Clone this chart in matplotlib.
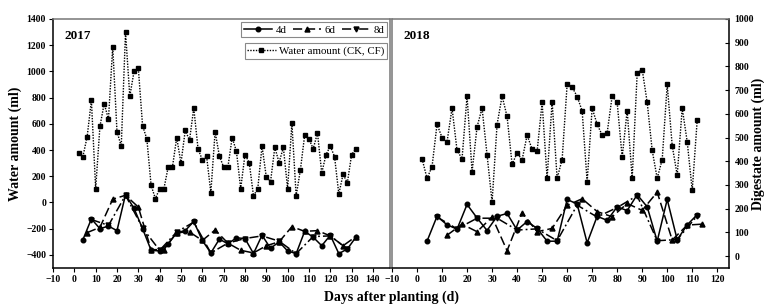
import matplotlib
matplotlib.use("Agg")
import matplotlib.pyplot as plt
from matplotlib.lines import Line2D

plt.rcParams["font.family"] = ["Liberation Serif", "DejaVu Serif"]

# ---- 2017 (left axis, ml) ----
water17_x = list(range(2, 134, 2))
water17_y = [380, 350, 500, 780, 105, 580, 755, 635, 1190, 540, 430, 1300, 810,
             1000, 1025, 585, 485, 130, 30, 105, 105, 270, 270, 495, 300, 550,
             475, 720, 410, 325, 355, 75, 540, 355, 270, 270, 495, 390, 105, 365,
             305, 50, 105, 430, 195, 160, 420, 305, 420, 105, 605, 50, 250, 515,
             485, 410, 530, 225, 365, 430, 350, 65, 215, 150, 365, 410]

d4_17_x = list(range(4, 136, 4))
d4_17_y = [-285, -125, -200, -180, -215, 60, -45, -200, -365, -370, -315, -230,
           -215, -145, -290, -385, -280, -315, -270, -275, -390, -250, -350, -300,
           -370, -390, -220, -265, -330, -250, -390, -355, -265]

d6_17_x = list(range(6, 138, 6))
d6_17_y = [-230, -190, 25, 55, -35, -360, -360, -230, -225, -290, -210, -310,
           -365, -385, -330, -300, -185, -220, -215, -255, -330, -260]

d8_17_x = list(range(8, 136, 8))
d8_17_y = [-130, -175, 55, -195, -365, -225, -150, -385, -310, -275, -255,
           -295, -390, -260, -255, -355]

# ---- 2018 (right axis, ml) ----
water18_x = list(range(2, 114, 2))
water18_y = [411, 328, 377, 556, 500, 482, 624, 446, 411, 675, 356, 545, 624,
             427, 228, 555, 675, 589, 387, 435, 406, 510, 451, 442, 648, 328,
             652, 328, 407, 724, 713, 673, 613, 313, 624, 556, 510, 520, 675,
             648, 417, 614, 328, 772, 787, 648, 446, 328, 407, 724, 466, 341,
             624, 482, 277, 575]

d4_18_x = list(range(4, 116, 4))
d4_18_y = [63, 168, 132, 114, 218, 161, 108, 168, 180, 110, 146, 117, 63, 63,
           239, 220, 56, 168, 151, 208, 192, 259, 208, 63, 239, 69, 132, 175]

d6_18_x = list(range(12, 120, 6))
d6_18_y = [88, 135, 103, 165, 23, 183, 103, 117, 214, 242, 188, 166, 222, 193,
           270, 68, 131, 135]

d8_18_x = list(range(8, 120, 8))
d8_18_y = [165, 115, 160, 160, 110, 115, 65, 215, 165, 205, 255, 65, 70, 170]

W, H = 768, 306
fig = plt.figure(figsize=(W / 100, H / 100), dpi=100)
ax1 = fig.add_axes([53 / W, 1 - 268 / H, 337 / W, 249 / H])
ax2 = fig.add_axes([392 / W, 1 - 268 / H, 337 / W, 249 / H])

ms = 3.3
water_kw = dict(color="black", ls=(0, (1, 1)), lw=1.0, marker="s", ms=ms)
d4_kw = dict(color="black", ls="-", lw=1.1, marker="o", ms=ms)
d6_kw = dict(color="black", ls=(0, (6, 2.5)), lw=1.1, marker="^", ms=ms + 0.3)
d8_kw = dict(color="black", ls=(0, (6, 2, 1.2, 2)), lw=1.1, marker="v", ms=ms + 0.3)


def draw_panel(ax, wx, wy, s4, s6, s8):
    ax.plot(wx, wy, **water_kw)
    ax.plot(*s4, **d4_kw)
    ax.plot(*s6, **d6_kw)
    ax.plot(*s8, **d8_kw)


draw_panel(ax1, water17_x, water17_y, (d4_17_x, d4_17_y),
           (d6_17_x, d6_17_y), (d8_17_x, d8_17_y))
draw_panel(ax2, water18_x, water18_y, (d4_18_x, d4_18_y),
           (d6_18_x, d6_18_y), (d8_18_x, d8_18_y))

tick_font = dict(fontsize=7, fontweight="bold")

ax1.set_xlim(-10, 148)
ax1.set_ylim(-500, 1400)
ax1.set_xticks(range(-10, 150, 10))
ax1.set_yticks(range(-400, 1600, 200))
ax1.tick_params(direction="out", length=3, width=0.8, pad=2)
ax1.tick_params(axis="y", right=False)
for lbl in ax1.get_xticklabels() + ax1.get_yticklabels():
    lbl.set(**tick_font)

ax2.set_xlim(-10, 124.7)
ax2.set_ylim(-50, 1000)
ax2.set_xticks(range(-10, 130, 10))
ax2.set_yticks(range(0, 1100, 100))
ax2.yaxis.tick_right()
ax2.tick_params(axis="x", direction="out", length=3, width=0.8, pad=2)
ax2.tick_params(axis="y", direction="in", length=3, width=0.8, pad=4)
for lbl in ax2.get_xticklabels() + ax2.get_yticklabels():
    lbl.set(**tick_font)

for ax in (ax1, ax2):
    for side in ("top", "right", "left", "bottom"):
        ax.spines[side].set_linewidth(1.1)
    ax.spines["top"].set_color("#777777")
ax1.spines["right"].set_color("#777777")
ax2.spines["left"].set_color("#777777")

ax1.text(0.035, 0.955, "2017", transform=ax1.transAxes, fontsize=9.5,
         fontweight="bold", va="top", ha="left")
ax2.text(0.035, 0.955, "2018", transform=ax2.transAxes, fontsize=9.5,
         fontweight="bold", va="top", ha="left")

fig.text(15 / W, 0.53, "Water amount (ml)", rotation=90, ha="center",
         va="center", fontsize=10, fontweight="bold")
fig.text(758 / W, 0.53, "Digestate amount (ml)", rotation=90, ha="center",
         va="center", fontsize=10, fontweight="bold")
fig.text(391 / W, 1 - 297 / H, "Days after planting (d)", ha="center",
         va="center", fontsize=10, fontweight="bold")

# legends (two boxes, top-right of left panel)
h4 = Line2D([], [], **d4_kw)
h6 = Line2D([], [], **d6_kw)
h8 = Line2D([], [], **d8_kw)
hw = Line2D([], [], **water_kw)
leg_kw = dict(frameon=True, fancybox=False, fontsize=7.8, handlelength=2.6,
              handletextpad=0.3, borderpad=0.25, borderaxespad=0.3,
              edgecolor="#888888", framealpha=1)
leg1 = ax1.legend([h4, h6, h8], ["4d", "6d", "8d"], ncol=3, loc="upper right",
                  bbox_to_anchor=(1.0, 1.0), columnspacing=0.6, **leg_kw)
ax1.add_artist(leg1)
ax1.legend([hw], ["Water amount (CK, CF)"], loc="upper right",
           bbox_to_anchor=(1.0, 0.915), **leg_kw)
for leg in ax1.get_legend(), leg1:
    leg.get_frame().set_linewidth(0.8)

fig.savefig("out.png", dpi=100)
